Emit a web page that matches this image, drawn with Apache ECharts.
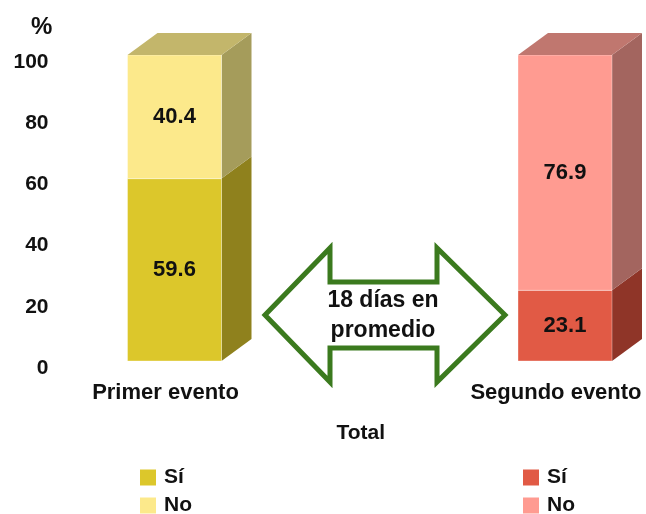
<!DOCTYPE html>
<html>
<head>
<meta charset="utf-8">
<script src="https://cdn.jsdelivr.net/npm/echarts@6/dist/echarts.min.js"></script>
<style>
    html, body {margin: 0; padding: 0; background: #fff;}
    #chart {width: 646px; height: 514px;}
</style>
</head>
<body>
<div id="chart"></div>
<script>
// datos
var categories = ['Primer evento', 'Segundo evento'];
var siValues = [59.6, 23.1];
var noValues = [40.4, 76.9];
var yTicks = [0, 20, 40, 60, 80, 100];

// colores por barra: [frente, lado, arriba]
var siColors = [['#DCC72B', '#8F811D', '#B9AB3A'], ['#E15A45', '#8F3528', '#B4473A']];
var noColors = [['#FCE98B', '#A59C5B', '#C3B66B'], ['#FF9B91', '#A3655F', '#C0776F']];

var BAR_W = 94, DX = 30, DY = -22;
var FONT = '"Liberation Sans", Arial, sans-serif';

var myChart = echarts.init(document.getElementById('chart'));

var makeRender = function (colors, isTop) {
    return function (params, api) {
        var cat = api.value(0);
        var start = api.value(1), end = api.value(2);
        var pTop = api.coord([cat, end]);
        var pBot = api.coord([cat, start]);
        var x0 = pTop[0] - BAR_W / 2, x1 = pTop[0] + BAR_W / 2;
        var yT = pTop[1], yB = pBot[1];
        var c = colors[params.dataIndex];
        var children = [{
            type: 'polygon',
            shape: {points: [[x1, yT], [x1 + DX, yT + DY], [x1 + DX, yB + DY], [x1, yB]]},
            style: {fill: c[1]}
        }, {
            type: 'rect',
            shape: {x: x0, y: yT, width: BAR_W, height: yB - yT},
            style: {fill: c[0], stroke: 'rgba(255,255,255,0.35)', lineWidth: 1}
        }];
        if (isTop) {
            children.push({
                type: 'polygon',
                shape: {points: [[x0, yT], [x0 + DX, yT + DY], [x1 + DX, yT + DY], [x1, yT]]},
                style: {fill: c[2]}
            });
        }
        children.push({
            type: 'text',
            style: {
                text: (end - start).toFixed(1),
                x: pTop[0], y: (yT + yB) / 2,
                align: 'center', verticalAlign: 'middle',
                font: 'bold 22px ' + FONT, fill: '#111'
            }
        });
        return {type: 'group', children: children};
    };
};

var siData = categories.map(function (c, i) {
    return [i, 0, siValues[i]];
});
var noData = categories.map(function (c, i) {
    return [i, siValues[i], siValues[i] + noValues[i]];
});

var legendText = {fontFamily: FONT, fontWeight: 'bold', fontSize: 21, color: '#111', padding: [0, 0, 0, 3]};

var option = {
    animation: false,
    title: {
        text: '%', left: 31, top: 15, padding: 0,
        textStyle: {fontFamily: FONT, fontWeight: 'bold', fontSize: 24, color: '#111'}
    },
    grid: {left: 174.5, right: 81, top: 55, bottom: 153},
    xAxis: {
        type: 'category',
        data: categories,
        boundaryGap: false,
        axisLine: {show: false},
        axisTick: {show: false},
        axisLabel: {
            margin: 21, padding: [0, 18, 0, 0],
            fontFamily: FONT, fontWeight: 'bold', fontSize: 22, color: '#111'
        },
        name: 'Total',
        nameLocation: 'middle',
        nameGap: 62,
        nameTextStyle: {fontFamily: FONT, fontWeight: 'bold', fontSize: 21, color: '#111', padding: [0, 18, 0, 0]}
    },
    yAxis: {
        type: 'value',
        min: yTicks[0], max: yTicks[yTicks.length - 1], interval: 20,
        splitLine: {show: false},
        axisLine: {show: false},
        axisTick: {show: false},
        axisLabel: {
            margin: 126, verticalAlign: 'top', lineHeight: 14,
            fontFamily: FONT, fontWeight: 'bold', fontSize: 21, color: '#111'
        }
    },
    legend: [{
        orient: 'vertical', left: 135, top: 462, height: 80, itemWidth: 16, itemHeight: 16, itemGap: 7,
        data: [{name: 'Sí', icon: 'rect', itemStyle: {color: siColors[0][0]}},
            {name: 'No', icon: 'rect', itemStyle: {color: noColors[0][0]}}],
        textStyle: legendText, selectedMode: false
    }, {
        orient: 'vertical', left: 518, top: 462, height: 80, itemWidth: 16, itemHeight: 16, itemGap: 7,
        data: [{name: 'Sí', icon: 'rect', itemStyle: {color: siColors[1][0]}},
            {name: 'No', icon: 'rect', itemStyle: {color: noColors[1][0]}}],
        textStyle: legendText, selectedMode: false
    }],
    graphic: [{
        type: 'polygon',
        shape: {
            points: [[265, 315], [330, 248], [330, 282], [437, 282], [437, 248], [505, 315],
                [437, 382], [437, 348], [330, 348], [330, 382]]
        },
        style: {fill: '#fff', stroke: '#3B7A1E', lineWidth: 5, lineJoin: 'miter'},
        z: 10
    }, {
        type: 'text',
        x: 383, y: 316,
        style: {
            text: '18 días en\npromedio', align: 'center', verticalAlign: 'middle',
            font: 'bold 23px ' + FONT, lineHeight: 30, fill: '#111'
        },
        z: 11
    }],
    series: [{
        name: 'Sí',
        type: 'custom',
        renderItem: makeRender(siColors, false),
        encode: {x: 0, y: [1, 2]},
        itemStyle: {color: siColors[0][0]},
        data: siData
    }, {
        name: 'No',
        type: 'custom',
        renderItem: makeRender(noColors, true),
        encode: {x: 0, y: [1, 2]},
        itemStyle: {color: noColors[0][0]},
        data: noData
    }]
};
myChart.setOption(option);
</script>
</body>
</html>
